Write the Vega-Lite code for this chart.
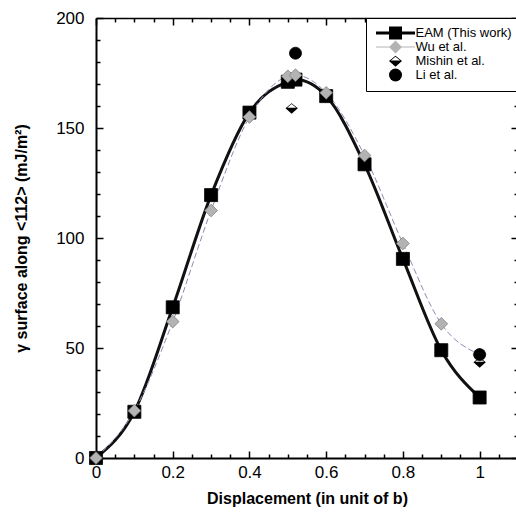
{
  "$schema": "https://vega.github.io/schema/vega-lite/v6.json",
  "width": 422,
  "height": 440,
  "autosize": "none",
  "padding": {"left": 96, "top": 18, "right": 0, "bottom": 62},
  "background": "white",
  "config": {
    "font": "Liberation Sans",
    "view": {"stroke": null},
    "axis": {"grid": false, "labelColor": "black", "titleColor": "black", "domainColor": "black", "tickColor": "black", "tickWidth": 1.5, "labelFont": "Liberation Sans", "titleFont": "Liberation Sans"}
  },
  "data": {
    "values": [
      {"s": "EAM (This work)", "x": 0, "y": 0},
      {"s": "EAM (This work)", "x": 0.1, "y": 21},
      {"s": "EAM (This work)", "x": 0.2, "y": 68.5},
      {"s": "EAM (This work)", "x": 0.3, "y": 119.5},
      {"s": "EAM (This work)", "x": 0.4, "y": 157},
      {"s": "EAM (This work)", "x": 0.5, "y": 171},
      {"s": "EAM (This work)", "x": 0.52, "y": 172},
      {"s": "EAM (This work)", "x": 0.6, "y": 164.5},
      {"s": "EAM (This work)", "x": 0.7, "y": 133.5},
      {"s": "EAM (This work)", "x": 0.8, "y": 90.5},
      {"s": "EAM (This work)", "x": 0.9, "y": 49},
      {"s": "EAM (This work)", "x": 1.0, "y": 27.5},
      {"s": "Wu et al.", "x": 0, "y": 0},
      {"s": "Wu et al.", "x": 0.1, "y": 21.5},
      {"s": "Wu et al.", "x": 0.2, "y": 62},
      {"s": "Wu et al.", "x": 0.3, "y": 112.5},
      {"s": "Wu et al.", "x": 0.4, "y": 155},
      {"s": "Wu et al.", "x": 0.5, "y": 173.5},
      {"s": "Wu et al.", "x": 0.52, "y": 174},
      {"s": "Wu et al.", "x": 0.6, "y": 166},
      {"s": "Wu et al.", "x": 0.7, "y": 137.5},
      {"s": "Wu et al.", "x": 0.8, "y": 97.5},
      {"s": "Wu et al.", "x": 0.9, "y": 61},
      {"s": "Wu et al.", "x": 1.0, "y": 47},
      {"s": "Mishin et al.", "x": 0.51, "y": 159},
      {"s": "Mishin et al.", "x": 1.0, "y": 43.5},
      {"s": "Li et al.", "x": 0.52, "y": 184},
      {"s": "Li et al.", "x": 1.0, "y": 47}
    ]
  },
  "layer": [
    {
      "transform": [{"filter": "datum.s === 'EAM (This work)'"}],
      "mark": {"type": "line", "interpolate": "monotone", "color": "#111111", "strokeWidth": 3},
      "encoding": {
        "x": {"field": "x", "type": "quantitative", "scale": {"domain": [0, 1.1], "nice": false, "zero": false},
          "axis": {"orient": "bottom", "values": [0, 0.2, 0.4, 0.6, 0.8, 1.0], "format": "~g",
            "labelFlush": false, "labelOverlap": false, "tickSize": -7, "labelPadding": 13, "labelFontSize": 17,
            "domainWidth": 2, "title": "Displacement (in unit of b)", "titleFontSize": 16, "titleFontWeight": "bold", "titlePadding": 10}},
        "y": {"field": "y", "type": "quantitative", "scale": {"domain": [0, 200], "nice": false},
          "axis": {"orient": "left", "values": [0, 50, 100, 150, 200],
            "labelOverlap": false, "tickSize": -7, "labelPadding": 19, "labelFontSize": 17,
            "domainWidth": 2, "title": "γ surface along <112> (mJ/m²)", "titleFontSize": 16, "titleFontWeight": "bold", "titlePadding": 26}}
      }
    },
    {
      "transform": [{"filter": "datum.s === 'Wu et al.'"}],
      "mark": {"type": "line", "interpolate": "monotone", "color": "#8c8cb4", "strokeWidth": 1, "strokeDash": [6, 3]},
      "encoding": {
        "x": {"field": "x", "type": "quantitative",
          "axis": {"orient": "top", "values": [0, 0.2, 0.4, 0.6, 0.8, 1.0], "labels": false, "tickSize": -7, "domainWidth": 1.5, "title": null}},
        "y": {"field": "y", "type": "quantitative",
          "axis": {"orient": "right", "values": [0, 50, 100, 150, 200], "labels": false, "tickSize": -7, "domainWidth": 1.5, "title": null}}
      }
    },
    {
      "mark": {"type": "point", "filled": true, "opacity": 1, "strokeWidth": 0.8},
      "encoding": {
        "x": {"field": "x", "type": "quantitative",
          "axis": {"orient": "bottom", "values": [0.05,0.1,0.15,0.25,0.3,0.35,0.45,0.5,0.55,0.65,0.7,0.75,0.85,0.9,0.95,1.05,1.1],
            "labels": false, "domain": false, "tickSize": -4, "title": null}},
        "y": {"field": "y", "type": "quantitative",
          "axis": {"orient": "left", "values": [10,20,30,40,60,70,80,90,110,120,130,140,160,170,180,190],
            "labels": false, "domain": false, "tickSize": -4, "title": null}},
        "color": {"field": "s", "type": "nominal",
          "scale": {"domain": ["EAM (This work)", "Wu et al.", "Mishin et al.", "Li et al."], "range": ["#000000", "#b3b3b3", "#000000", "#000000"]},
          "legend": null},
        "shape": {"field": "s", "type": "nominal",
          "scale": {"domain": ["EAM (This work)", "Wu et al.", "Mishin et al.", "Li et al."], "range": ["square", "diamond", "M -1 0 L 0 -0.8 L 1 0 Z M -0.72 -0.09 L 0.72 -0.09 L 0 -0.66 Z M -1 0 L 1 0 L 0 0.9 Z", "circle"]},
          "legend": null},
        "size": {"field": "s", "type": "nominal",
          "scale": {"domain": ["EAM (This work)", "Wu et al.", "Mishin et al.", "Li et al."], "range": [170, 144, 150, 133]},
          "legend": null},
        "stroke": {"field": "s", "type": "nominal",
          "scale": {"domain": ["EAM (This work)", "Wu et al.", "Mishin et al.", "Li et al."], "range": ["#000000", "#808080", "transparent", "#000000"]},
          "legend": null}
      }
    },
    {
      "mark": {"type": "point", "filled": true, "opacity": 0},
      "encoding": {
        "x": {"field": "x", "type": "quantitative",
          "axis": {"orient": "top", "values": [0.05,0.1,0.15,0.25,0.3,0.35,0.45,0.5,0.55,0.65,0.7,0.75,0.85,0.9,0.95,1.05,1.1],
            "labels": false, "domain": false, "tickSize": -4, "title": null}},
        "y": {"field": "y", "type": "quantitative",
          "axis": {"orient": "right", "values": [10,20,30,40,60,70,80,90,110,120,130,140,160,170,180,190],
            "labels": false, "domain": false, "tickSize": -4, "title": null}},
        "color": {"field": "s", "type": "nominal",
          "scale": {"domain": ["EAM (This work)", "Wu et al.", "Mishin et al.", "Li et al."], "range": ["#000000", "#b3b3b3", "#000000", "#000000"]},
          "legend": {"title": null, "orient": "none", "legendX": 270, "legendY": 0, "fillColor": "white", "strokeColor": "black", "padding": 8.5,
            "symbolSize": 169, "symbolOpacity": 1, "symbolStrokeWidth": 0, "symbolOffset": 14.5, "labelOffset": 13.5, "rowPadding": -3.3,
            "labelFont": "Liberation Sans", "labelFontSize": 13, "labelColor": "black"}},
        "shape": {"field": "s", "type": "nominal",
          "scale": {"domain": ["EAM (This work)", "Wu et al.", "Mishin et al.", "Li et al."], "range": [
            "M -3 -0.22 L 3 -0.22 L 3 0.22 L -3 0.22 Z M -1 -1 L 1 -1 L 1 1 L -1 1 Z",
            "M -3 -0.08 L 3 -0.08 L 3 0.08 L -3 0.08 Z M -1 0 L 0 -1 L 1 0 L 0 1 Z",
            "M -1 0 L 0 -0.8 L 1 0 Z M -0.72 -0.09 L 0.72 -0.09 L 0 -0.66 Z M -1 0 L 1 0 L 0 0.9 Z",
            "circle"]},
          "legend": {"title": null, "orient": "none", "legendX": 270, "legendY": 0, "fillColor": "white", "strokeColor": "black", "padding": 8.5,
            "symbolSize": 169, "symbolOpacity": 1, "symbolStrokeWidth": 0, "symbolOffset": 14.5, "labelOffset": 13.5, "rowPadding": -3.3,
            "labelFont": "Liberation Sans", "labelFontSize": 13, "labelColor": "black"}}
      }
    }
  ],
  "resolve": {"axis": {"x": "independent", "y": "independent"}, "scale": {"color": "independent", "shape": "independent"}}
}
